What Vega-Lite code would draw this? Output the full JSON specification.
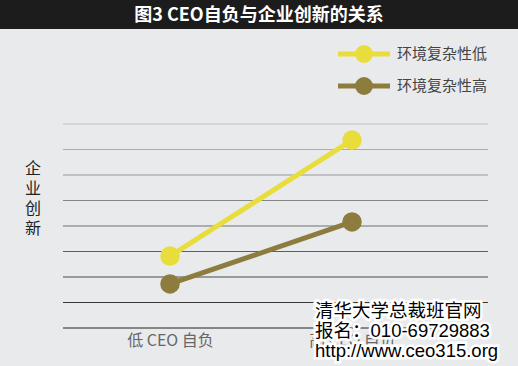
{
  "$schema": "https://vega.github.io/schema/vega-lite/v6.json",
  "width": 518,
  "height": 337,
  "autosize": {"type": "none"},
  "padding": {"top": 29, "left": 0, "right": 0, "bottom": 0},
  "background": "#1c1c1c",
  "title": {
    "text": "图3  CEO自负与企业创新的关系",
    "color": "#ffffff",
    "font": "Noto Sans CJK SC",
    "fontSize": 18,
    "fontWeight": "bold",
    "anchor": "middle",
    "baseline": "middle",
    "frame": "group",
    "offset": -5
  },
  "datasets": {
    "series": [
      {"ceo": 0, "innovation": 2.82, "env": "环境复杂性低"},
      {"ceo": 1, "innovation": 7.37, "env": "环境复杂性低"},
      {"ceo": 0, "innovation": 1.73, "env": "环境复杂性高"},
      {"ceo": 1, "innovation": 4.16, "env": "环境复杂性高"}
    ],
    "grid": [
      {"g": 0}, {"g": 1}, {"g": 2}, {"g": 3}, {"g": 4},
      {"g": 5}, {"g": 6}, {"g": 7}, {"g": 8}
    ]
  },
  "layer": [
    {
      "data": {"name": "grid"},
      "mark": {"type": "rule", "color": "#000000", "strokeWidth": 1.2},
      "encoding": {
        "y": {"field": "g", "type": "quantitative",
              "scale": {"domain": [-1.49, 11.725], "nice": false, "zero": false},
              "axis": {"title": ["企", "业", "创", "新"], "labels": false, "ticks": false, "domain": false, "grid": false,
                       "titleAngle": 0, "titleX": 32.5, "titleY": 139.5, "titleAlign": "center", "titleBaseline": "middle",
                       "titleFontSize": 16, "titleLineHeight": 20, "titleFontWeight": "normal", "titleColor": "#222222",
                       "titleFont": "Noto Sans CJK SC"}},
        "x": {"datum": -0.588, "type": "quantitative",
              "scale": {"domain": [-0.934, 1.912], "nice": false, "zero": false},
              "axis": {"values": [0, 1], "title": null, "domain": false, "ticks": false, "tickSize": 0, "grid": false,
                       "labelExpr": "datum.value == 0 ? '低 CEO 自负' : '高 CEO 自负'",
                       "labelBaseline": "middle", "labelPadding": 0, "offset": -26,
                       "labelFontSize": 16, "labelColor": "#666666", "labelFont": "Noto Sans CJK SC"}},
        "x2": {"datum": 1.747},
        "opacity": {"field": "g", "type": "quantitative", "scale": {"domain": [0, 8], "range": [0.85, 0.18]}, "legend": null}
      }
    },
    {
      "data": {"name": "series"},
      "mark": {"type": "line", "strokeWidth": 5},
      "encoding": {
        "x": {"field": "ceo", "type": "quantitative"},
        "y": {"field": "innovation", "type": "quantitative"},
        "color": {"field": "env", "type": "nominal",
                  "scale": {"domain": ["环境复杂性低", "环境复杂性高"], "range": ["#e9dd3c", "#8c7d3e"]},
                  "legend": {
                    "title": null, "orient": "none", "legendX": 355, "legendY": 16,
                    "symbolType": "M-4,0H4M-1,0A1,1,0,1,0,1,0A1,1,0,1,0,-1,0",
                    "symbolSize": 169, "symbolStrokeWidth": 5,
                    "labelFontSize": 15, "labelColor": "#444444", "labelFont": "Noto Sans CJK SC",
                    "labelOffset": 24, "rowPadding": -2,
                    "encode": {"symbols": {"update": {
                      "fill": {"scale": "color", "field": "value"},
                      "stroke": {"scale": "color", "field": "value"},
                      "opacity": {"value": 1},
                      "fillOpacity": {"value": 1}
                    }}}
                  }}
      }
    },
    {
      "data": {"name": "series"},
      "mark": {"type": "point", "filled": true, "size": 380, "opacity": 1},
      "encoding": {
        "x": {"field": "ceo", "type": "quantitative"},
        "y": {"field": "innovation", "type": "quantitative"},
        "color": {"field": "env", "type": "nominal"}
      }
    },
    {
      "data": {"values": [{"t": "wm"}]},
      "mark": {"type": "text", "align": "left", "baseline": "middle", "lineHeight": 20, "fontSize": 18.5,
               "font": "Liberation Sans, Noto Sans CJK SC", "stroke": "#ffffff", "strokeWidth": 5, "fill": "#ffffff",
               "text": ["清华大学总裁班官网", "报名：010-69729883", "http://www.ceo315.org"]},
      "encoding": {"x": {"datum": 0.797}, "y": {"datum": 0.65}}
    },
    {
      "data": {"values": [{"t": "wm"}]},
      "mark": {"type": "text", "align": "left", "baseline": "middle", "lineHeight": 20, "fontSize": 18.5,
               "font": "Liberation Sans, Noto Sans CJK SC", "fill": "#000000",
               "text": ["清华大学总裁班官网", "报名：010-69729883", "http://www.ceo315.org"]},
      "encoding": {"x": {"datum": 0.797}, "y": {"datum": 0.65}}
    }
  ],
  "config": {
    "view": {"fill": "#e9eaec", "stroke": null},
    "font": "Noto Sans CJK SC"
  }
}
